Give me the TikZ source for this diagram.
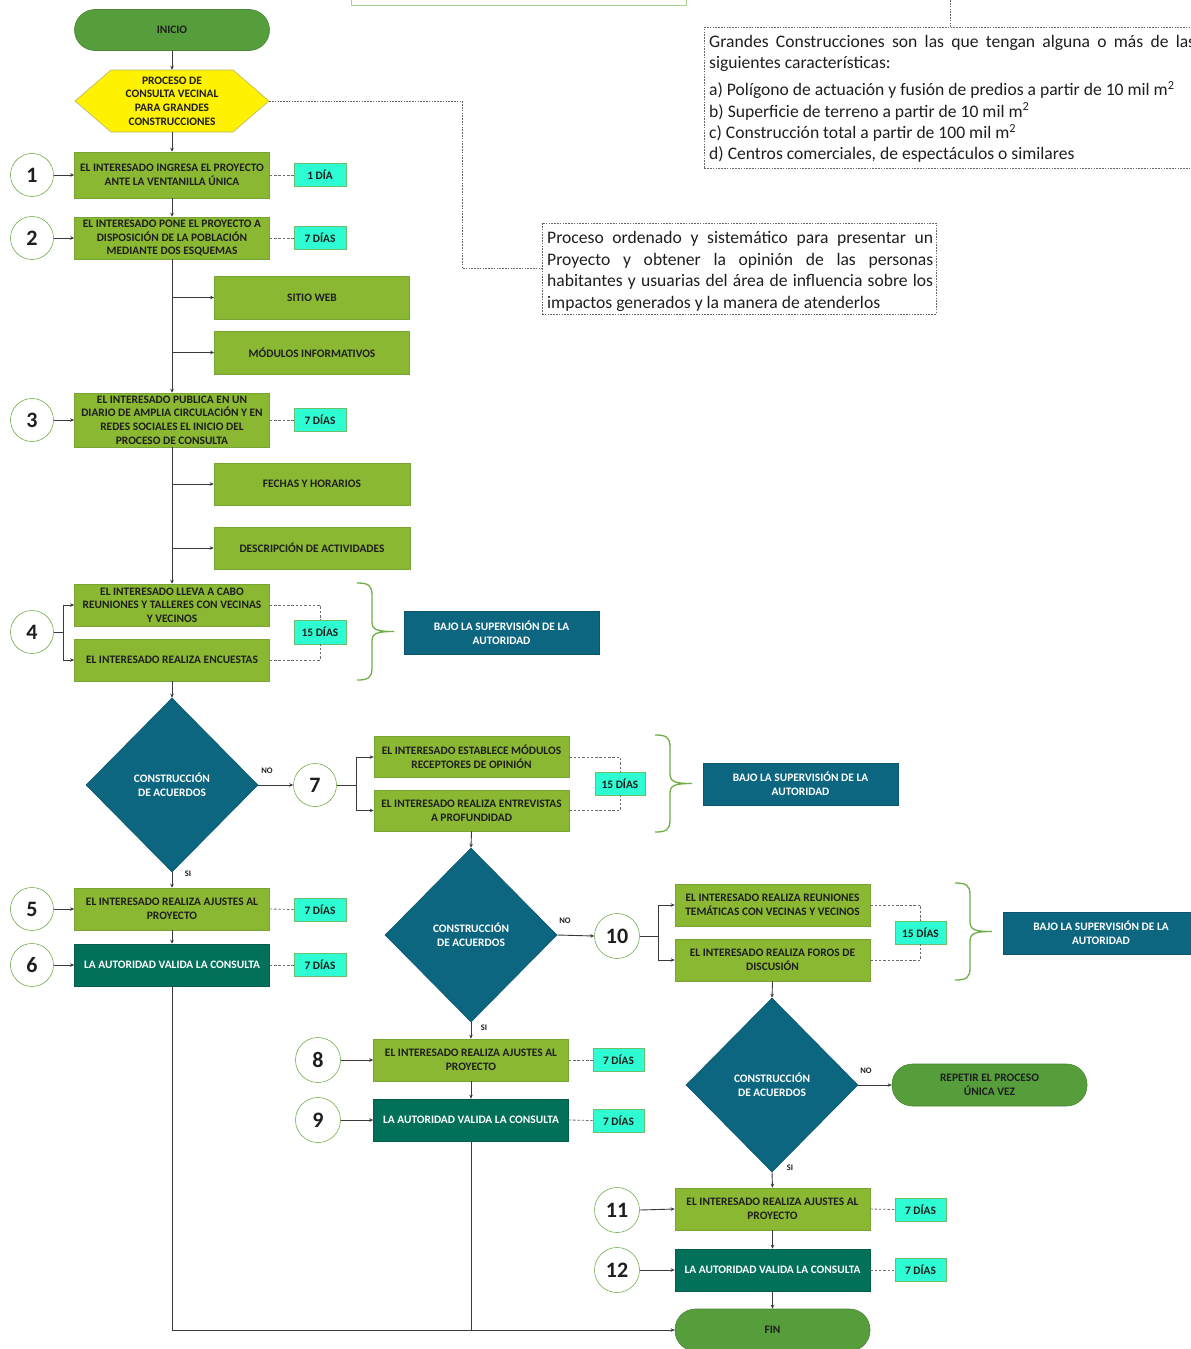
\documentclass[tikz,border=0pt]{standalone}
\usepackage{fontspec}
\setmainfont{Carlito}
\usetikzlibrary{arrows.meta,shapes.geometric}
\definecolor{stadgreen}{HTML}{569D3B}
\definecolor{olivefill}{HTML}{8BB833}
\definecolor{oliveborder}{HTML}{77A533}
\definecolor{darkgreen}{HTML}{03705A}
\definecolor{tealc}{HTML}{0C6680}
\definecolor{aqua}{HTML}{2EFDD3}
\definecolor{dayborder}{HTML}{6BBF6B}
\definecolor{circborder}{HTML}{70AD47}
\definecolor{bracec}{HTML}{70AD47}
\definecolor{hexborder}{HTML}{B4B46A}
\definecolor{linec}{HTML}{3A3A3A}
\definecolor{topgreen}{HTML}{A9D18E}
\definecolor{txt}{HTML}{1E1E1E}
\newcommand{\boxf}{\fontsize{11.4}{13.7}\selectfont\bfseries}
\newcommand{\numf}{\fontsize{22}{22}\selectfont\bfseries}
\newcommand{\lblf}{\fontsize{8.5}{10}\selectfont\bfseries}
\newcommand{\notef}{\fontsize{17.6}{21.4}\selectfont}
\newcommand{\mkbrace}[3]{%
 \draw[bracestyle] (#1,#2) .. controls ({#1+11},#2) and ({#1+15},{#2+2}) .. ({#1+15},{#2+12})
  -- ({#1+15},{(#2+#3)/2-10}) .. controls ({#1+15},{(#2+#3)/2-2}) and ({#1+19},{(#2+#3)/2}) .. ({#1+37},{(#2+#3)/2})
  .. controls ({#1+19},{(#2+#3)/2}) and ({#1+15},{(#2+#3)/2+2}) .. ({#1+15},{(#2+#3)/2+10})
  -- ({#1+15},{#3-12}) .. controls ({#1+15},{#3-2}) and ({#1+11},#3) .. (#1,#3);}
\begin{document}
\begin{tikzpicture}[x=1pt,y=-1pt,
 olive/.style={rectangle, fill=olivefill, draw=oliveborder, line width=0.6pt, minimum width=195pt, minimum height=42pt, inner sep=1pt, align=center, font=\boxf, text=txt},
 darkbox/.style={olive, fill=darkgreen, draw=darkgreen!85!black, text=white},
 tealbox/.style={olive, fill=tealc, draw=tealc!85!black, text=white},
 daybox/.style={rectangle, fill=aqua, draw=dayborder, line width=0.6pt, minimum width=52pt, minimum height=23pt, inner sep=1pt, font=\boxf, text=txt},
 numc/.style={circle, draw=circborder, fill=white, line width=0.6pt, minimum size=43pt, inner sep=0pt, font=\numf, text=txt},
 stad/.style={rectangle, rounded corners=20.5pt, fill=stadgreen, draw=stadgreen!85!black, line width=0.6pt, minimum width=195pt, minimum height=42pt, align=center, font=\boxf, text=txt},
 diam/.style={diamond, fill=tealc, draw=tealc!85!black, line width=0.6pt, minimum width=172pt, minimum height=174pt, inner sep=0pt, align=center, font=\boxf, text=white},
 conn/.style={draw=linec, line width=0.9pt, -{Stealth[length=4pt,width=3.5pt]}},
 plain/.style={draw=linec, line width=0.9pt},
 dashc/.style={draw=gray!85!black, line width=0.8pt, dash pattern=on 2.5pt off 1.8pt},
 notebox/.style={draw=gray!80!black, line width=0.8pt, dash pattern=on 1.6pt off 1.2pt, inner sep=0pt},
 bracestyle/.style={draw=bracec, line width=1.3pt},
 lbl/.style={font=\lblf, text=txt, inner sep=0pt}
]
\useasboundingbox (0,0) rectangle (1191,1349);

% top partial box
\node[draw=topgreen, fill=white, line width=0.8pt, minimum width=335pt, minimum height=20pt, inner sep=0pt] (topbox) at (518.5,-5) {};

% notes
\node[notebox, minimum width=394pt, minimum height=91pt] (proc) at (739,268.5) {};
\node[anchor=north west, inner sep=0pt, align=left, font=\notef, text=txt] (proctxt) at (547,231.5) {%
\makebox[386pt][s]{Proceso ordenado y sistemático para presentar un}\\
\makebox[386pt][s]{Proyecto y obtener la opinión de las personas}\\
\makebox[386pt][s]{habitantes y usuarias del área de influencia sobre los}\\
impactos generados y la manera de atenderlos};

\node[notebox, anchor=north west, minimum width=500pt, minimum height=141pt] (gr) at (704,27) {};
\node[anchor=north west, inner sep=0pt, align=left, font=\notef, text=txt] (grtxt) at (709,35) {%
\makebox[486pt][s]{Grandes Construcciones son las que tengan alguna o más de las}\\
siguientes características:\\[5.5pt]
a) Polígono de actuación y fusión de predios a partir de 10 mil m\textsuperscript{2}\\
b) Superficie de terreno a partir de 10 mil m\textsuperscript{2}\\
c) Construcción total a partir de 100 mil m\textsuperscript{2}\\
d) Centros comerciales, de espectáculos o similares};
\draw[notebox] (950,27) -- (950,-5);

% main column
\node[stad, minimum height=41pt] (ini) at (172,30) {INICIO};
\filldraw[fill=yellow, draw=hexborder, line width=0.6pt] (75,101) -- (111,70) -- (233,70) -- (269,101) -- (233,132) -- (111,132) -- cycle;
\node[minimum width=194pt, minimum height=62pt, inner sep=0pt, align=center, font=\boxf, text=txt] (hex) at (172,101) {PROCESO DE\\CONSULTA VECINAL\\PARA GRANDES\\CONSTRUCCIONES};

\node[olive, minimum height=46pt] (b1) at (172,175) {EL INTERESADO INGRESA EL PROYECTO\\ANTE LA VENTANILLA ÚNICA};
\node[numc] (c1) at (32,175) {1};
\node[daybox] (d1) at (320,175) {1 DÍA};

\node[olive] (b2) at (172,238) {EL INTERESADO PONE EL PROYECTO A\\DISPOSICIÓN DE LA POBLACIÓN\\MEDIANTE DOS ESQUEMAS};
\node[numc] (c2) at (32,238) {2};
\node[daybox] (d2) at (320,238) {7 DÍAS};

\node[olive, minimum height=43pt] (web) at (312,297.5) {SITIO WEB};
\node[olive, minimum height=43pt] (mod) at (312,352.5) {MÓDULOS INFORMATIVOS};

\node[olive, minimum height=54pt] (b3) at (172,420) {EL INTERESADO PUBLICA EN UN\\DIARIO DE AMPLIA CIRCULACIÓN Y EN\\REDES SOCIALES EL INICIO DEL\\PROCESO DE CONSULTA};
\node[numc] (c3) at (32,420) {3};
\node[daybox] (d3) at (320,420) {7 DÍAS};

\node[olive, minimum width=196pt] (fec) at (312,484) {FECHAS Y HORARIOS};
\node[olive, minimum width=196pt] (des) at (312,548) {DESCRIPCIÓN DE ACTIVIDADES};

\node[olive] (b4a) at (172,605) {EL INTERESADO LLEVA A CABO\\REUNIONES Y TALLERES CON VECINAS\\Y VECINOS};
\node[olive] (b4b) at (172,660) {EL INTERESADO REALIZA ENCUESTAS};
\node[numc] (c4) at (32,632) {4};
\node[daybox, minimum height=24pt] (d4) at (320,632) {15 DÍAS};
\node[tealbox, minimum height=43pt] (sup1) at (501.5,632.5) {BAJO LA SUPERVISIÓN DE LA\\AUTORIDAD};

\node[diam] (q1) at (172,785) {CONSTRUCCIÓN\\DE ACUERDOS};
\node[numc] (c7) at (315,785) {7};
\node[olive, minimum height=41pt] (b7a) at (471.5,757) {EL INTERESADO ESTABLECE MÓDULOS\\RECEPTORES DE OPINIÓN};
\node[olive, minimum height=41pt] (b7b) at (471.5,810.5) {EL INTERESADO REALIZA ENTREVISTAS\\A PROFUNDIDAD};
\node[daybox, minimum width=50pt] (d7) at (620,783.5) {15 DÍAS};
\node[tealbox, minimum height=42pt] (sup2) at (800.5,784) {BAJO LA SUPERVISIÓN DE LA\\AUTORIDAD};

\node[olive] (b5) at (172,909) {EL INTERESADO REALIZA AJUSTES AL\\PROYECTO};
\node[numc] (c5) at (32,909) {5};
\node[daybox] (d5) at (320,909.5) {7 DÍAS};
\node[darkbox] (b6) at (172,965) {LA AUTORIDAD VALIDA LA CONSULTA};
\node[numc] (c6) at (32,965) {6};
\node[daybox] (d6) at (320,965) {7 DÍAS};

\node[diam] (q2) at (471,935) {CONSTRUCCIÓN\\DE ACUERDOS};
\node[numc, minimum size=45pt] (c10) at (617,936) {10};
\node[olive] (b10a) at (772.5,905) {EL INTERESADO REALIZA REUNIONES\\TEMÁTICAS CON VECINAS Y VECINOS};
\node[olive] (b10b) at (772.5,960) {EL INTERESADO REALIZA FOROS DE\\DISCUSIÓN};
\node[daybox, minimum width=51pt] (d10) at (920.5,932.5) {15 DÍAS};
\node[tealbox] (sup3) at (1101,933) {BAJO LA SUPERVISIÓN DE LA\\AUTORIDAD};

\node[olive] (b8) at (471,1060) {EL INTERESADO REALIZA AJUSTES AL\\PROYECTO};
\node[numc, minimum size=45pt] (c8) at (318,1060) {8};
\node[daybox, minimum width=51pt] (d8) at (618.5,1060) {7 DÍAS};
\node[darkbox] (b9) at (471,1120) {LA AUTORIDAD VALIDA LA CONSULTA};
\node[numc, minimum size=45pt] (c9) at (318,1120) {9};
\node[daybox, minimum width=51pt] (d9) at (618.5,1120.5) {7 DÍAS};

\node[diam] (q3) at (772,1085) {CONSTRUCCIÓN\\DE ACUERDOS};
\node[stad] (rep) at (989.5,1085) {REPETIR EL PROCESO\\ÚNICA VEZ};
\node[olive] (b11) at (772.5,1209) {EL INTERESADO REALIZA AJUSTES AL\\PROYECTO};
\node[numc, minimum size=45pt] (c11) at (617,1210) {11};
\node[daybox, minimum width=51pt] (d11) at (920.5,1209.5) {7 DÍAS};
\node[darkbox] (b12) at (772.5,1270) {LA AUTORIDAD VALIDA LA CONSULTA};
\node[numc, minimum size=45pt] (c12) at (617,1270) {12};
\node[daybox, minimum width=51pt] (d12) at (920.5,1270) {7 DÍAS};
\node[stad] (fin) at (772.5,1330) {FIN};

% labels
\node[lbl] (no1) at (267,771) {NO};
\node[lbl] (si1) at (188,874) {SI};
\node[lbl] (no2) at (565,921) {NO};
\node[lbl] (si2) at (484,1028) {SI};
\node[lbl] (no3) at (866,1071) {NO};
\node[lbl] (si3) at (790,1168) {SI};

% junction coordinates
\coordinate (k4) at (63,632);
\coordinate (k7) at (356,785);
\coordinate (k10) at (658,936);

% connectors
\draw[conn] (ini.south) -- (hex.north);
\draw[conn] (hex.south) -- (b1.north);
\draw[conn] (b1.south) -- (b2.north);
\draw[conn] (b2.south) -- (b3.north);
\draw[conn] (b2.south |- web.west) -- (web.west);
\draw[conn] (b2.south |- mod.west) -- (mod.west);
\draw[conn] (b3.south) -- (b4a.north);
\draw[conn] (b3.south |- fec.west) -- (fec.west);
\draw[conn] (b3.south |- des.west) -- (des.west);
\draw[conn] (b4b.south) -- (q1.north);
\draw[conn] (q1.east) -- (c7.west);
\draw[conn] (q1.south) -- (b5.north);
\draw[conn] (b5.south) -- (b6.north);
\draw[conn] (b6.south) |- (fin.west);
\draw[plain] (b9.south) -- (b9.south |- fin.west);
\draw[conn] (b7b.south) -- (q2.north);
\draw[conn] (q2.east) -- (c10.west);
\draw[conn] (q2.south) -- (b8.north);
\draw[conn] (b8.south) -- (b9.north);
\draw[conn] (b10b.south) -- (q3.north);
\draw[conn] (q3.east) -- (rep.west);
\draw[conn] (q3.south) -- (b11.north);
\draw[conn] (b11.south) -- (b12.north);
\draw[conn] (b12.south) -- (fin.north);

\foreach \c/\b in {c1/b1,c2/b2,c3/b3,c5/b5,c6/b6,c8/b8,c9/b9,c11/b11,c12/b12}
  \draw[conn] (\c.east) -- (\b.west);

\draw[plain] (c4.east) -- (k4);
\draw[conn] (k4) |- (b4a.west);
\draw[conn] (k4) |- (b4b.west);
\draw[plain] (c7.east) -- (k7);
\draw[conn] (k7) |- (b7a.west);
\draw[conn] (k7) |- (b7b.west);
\draw[plain] (c10.east) -- (k10);
\draw[conn] (k10) |- (b10a.west);
\draw[conn] (k10) |- (b10b.west);

% dashed day links
\foreach \b/\d in {b1/d1,b2/d2,b3/d3,b5/d5,b6/d6,b8/d8,b9/d9,b11/d11,b12/d12}
  \draw[dashc] (\b.east) -- (\d.west);
\draw[dashc] (b4a.east) -| (d4.north);
\draw[dashc] (b4b.east) -| (d4.south);
\draw[dashc] (b7a.east) -| (d7.north);
\draw[dashc] (b7b.east) -| (d7.south);
\draw[dashc] (b10a.east) -| (d10.north);
\draw[dashc] (b10b.east) -| (d10.south);

% note link
\draw[notebox] (hex.east) -- (462,101) -- (462,268.5) -- (proc.west);

% braces
\mkbrace{357}{583}{680}
\mkbrace{655}{735}{832}
\mkbrace{955}{883}{980}
\end{tikzpicture}
\end{document}
